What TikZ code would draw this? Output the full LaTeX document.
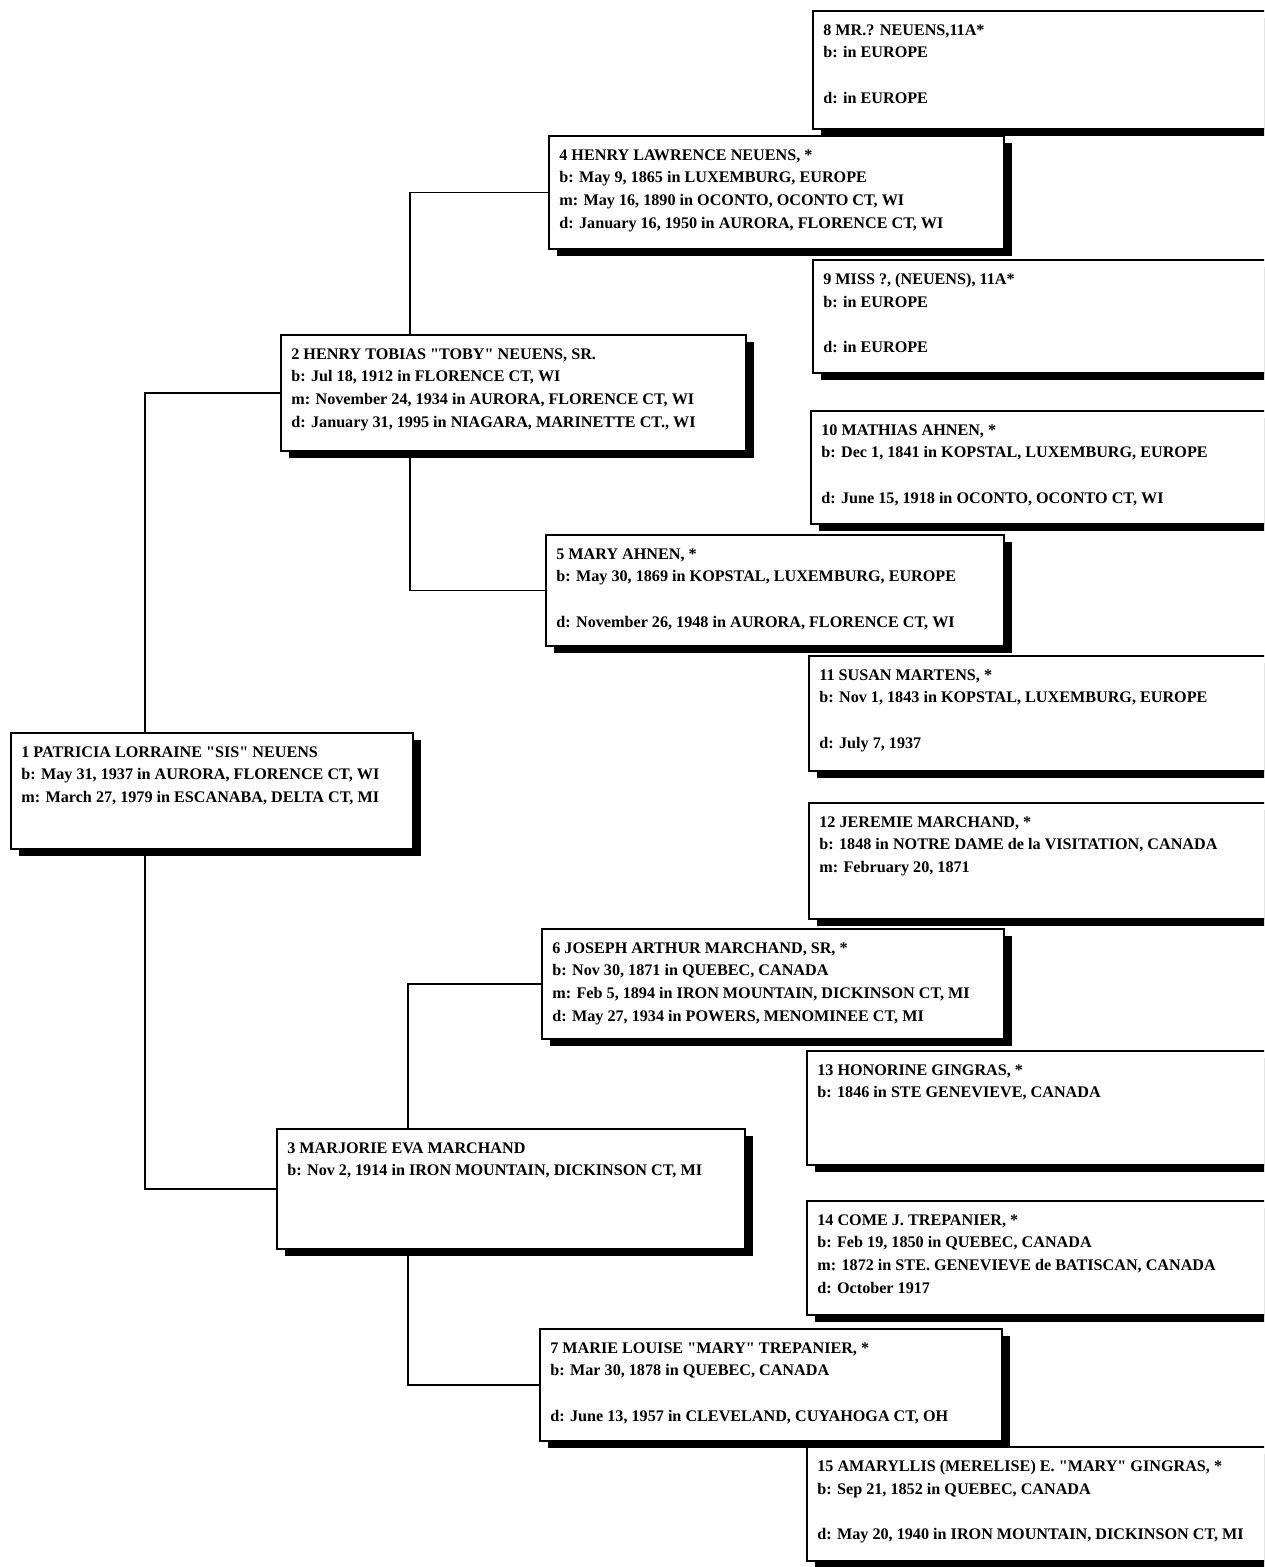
\documentclass[tikz,border=0pt]{standalone}
\usepackage{fontspec}
\setmainfont{Liberation Serif}
\usetikzlibrary{shadows,positioning}

\tikzset{
  person/.style 2 args={draw, line width=1.1pt, fill=white, anchor=north west,
    inner sep=0pt, minimum width=#1*0.02cm, minimum height=#2*0.02cm,
    drop shadow={shadow xshift=0.16cm, shadow yshift=-0.15cm, opacity=1, fill=black}},
  info/.style={anchor=north west, align=left, inner xsep=0.22cm, inner ysep=0.28cm,
    font=\bfseries\fontsize{9.2}{12.9}\selectfont},
  link/.style={line width=0.8pt}
}
\newcommand{\qq}{\textquotedbl}

\begin{document}
\begin{tikzpicture}[x=0.02cm,y=-0.02cm]
  \useasboundingbox (0,0) rectangle (1264,1567);
  \clip (0,0) rectangle (1264,1567);

  % Generation 1 and 2
  \node[person={402}{116}] (p1) at (10,732) {};
  \node[info] (t1) at (p1.north west) {1 PATRICIA LORRAINE \qq SIS\qq{} NEUENS\\
    b: May 31, 1937 in AURORA, FLORENCE CT, WI\\
    m: March 27, 1979 in ESCANABA, DELTA CT, MI};
  \node[person={465}{116}] (p2) at (280,334) {};
  \node[info] (t2) at (p2.north west) {2 HENRY TOBIAS \qq TOBY\qq{} NEUENS, SR.\\
    b: Jul 18, 1912 in FLORENCE CT, WI\\
    m: November 24, 1934 in AURORA, FLORENCE CT, WI\\
    d: January 31, 1995 in NIAGARA, MARINETTE CT., WI};
  \node[person={468}{120}] (p3) at (276,1128) {};
  \node[info] (t3) at (p3.north west) {3 MARJORIE EVA MARCHAND\\
    b: Nov 2, 1914 in IRON MOUNTAIN, DICKINSON CT, MI};

  % Generation 3
  \node[person={455}{113}] (p4) at (548,135) {};
  \node[info] (t4) at (p4.north west) {4 HENRY LAWRENCE NEUENS, *\\
    b: May 9, 1865 in LUXEMBURG, EUROPE\\
    m: May 16, 1890 in OCONTO, OCONTO CT, WI\\
    d: January 16, 1950 in AURORA, FLORENCE CT, WI};
  \node[person={458}{111}] (p5) at (545,534) {};
  \node[info] (t5) at (p5.north west) {5 MARY AHNEN, *\\
    b: May 30, 1869 in KOPSTAL, LUXEMBURG, EUROPE\\ \mbox{}\\
    d: November 26, 1948 in AURORA, FLORENCE CT, WI};
  \node[person={462}{110}] (p6) at (541,928) {};
  \node[info] (t6) at (p6.north west) {6 JOSEPH ARTHUR MARCHAND, SR, *\\
    b: Nov 30, 1871 in QUEBEC, CANADA\\
    m: Feb 5, 1894 in IRON MOUNTAIN, DICKINSON CT, MI\\
    d: May 27, 1934 in POWERS, MENOMINEE CT, MI};
  \node[person={462}{112}] (p7) at (539,1328) {};
  \node[info] (t7) at (p7.north west) {7 MARIE LOUISE \qq MARY\qq{} TREPANIER, *\\
    b: Mar 30, 1878 in QUEBEC, CANADA\\ \mbox{}\\
    d: June 13, 1957 in CLEVELAND, CUYAHOGA CT, OH};

  % Generation 4
  \node[person={500}{118}] (p8) at (812,10) {};
  \node[info] (t8) at (p8.north west) {8 MR.? NEUENS,11A*\\
    b: in EUROPE\\ \mbox{}\\
    d: in EUROPE};
  \node[person={500}{113}] (p9) at (812,259) {};
  \node[info] (t9) at (p9.north west) {9 MISS ?, (NEUENS), 11A*\\
    b: in EUROPE\\ \mbox{}\\
    d: in EUROPE};
  \node[person={500}{113}] (p10) at (810,410) {};
  \node[info] (t10) at (p10.north west) {10 MATHIAS AHNEN, *\\
    b: Dec 1, 1841 in KOPSTAL, LUXEMBURG, EUROPE\\ \mbox{}\\
    d: June 15, 1918 in OCONTO, OCONTO CT, WI};
  \node[person={500}{115}] (p11) at (808,655) {};
  \node[info] (t11) at (p11.north west) {11 SUSAN MARTENS, *\\
    b: Nov 1, 1843 in KOPSTAL, LUXEMBURG, EUROPE\\ \mbox{}\\
    d: July 7, 1937};
  \node[person={500}{116}] (p12) at (808,802) {};
  \node[info] (t12) at (p12.north west) {12 JEREMIE MARCHAND, *\\
    b: 1848 in NOTRE DAME de la VISITATION, CANADA\\
    m: February 20, 1871};
  \node[person={500}{114}] (p13) at (806,1050) {};
  \node[info] (t13) at (p13.north west) {13 HONORINE GINGRAS, *\\
    b: 1846 in STE GENEVIEVE, CANADA};
  \node[person={500}{114}] (p14) at (806,1200) {};
  \node[info] (t14) at (p14.north west) {14 COME J. TREPANIER, *\\
    b: Feb 19, 1850 in QUEBEC, CANADA\\
    m: 1872 in STE. GENEVIEVE de BATISCAN, CANADA\\
    d: October 1917};
  \node[person={500}{114}] (p15) at (806,1446) {};
  \node[info] (t15) at (p15.north west) {15 AMARYLLIS (MERELISE) E. \qq MARY\qq{} GINGRAS, *\\
    b: Sep 21, 1852 in QUEBEC, CANADA\\ \mbox{}\\
    d: May 20, 1940 in IRON MOUNTAIN, DICKINSON CT, MI};

  % Connectors
  \coordinate (j1) at (145,0);
  \coordinate (j2) at (410,0);
  \coordinate (j3) at (408,0);

  \draw[link] (j1 |- p1.north) |- (p2.west);
  \draw[link] (j1 |- p1.south) |- (p3.west);
  \draw[link] (j2 |- p2.north) |- (p4.west);
  \draw[link] (j2 |- p2.south) |- (p5.west);
  \draw[link] (j3 |- p3.north) |- (p6.west);
  \draw[link] (j3 |- p3.south) |- (p7.west);

\end{tikzpicture}
\end{document}
